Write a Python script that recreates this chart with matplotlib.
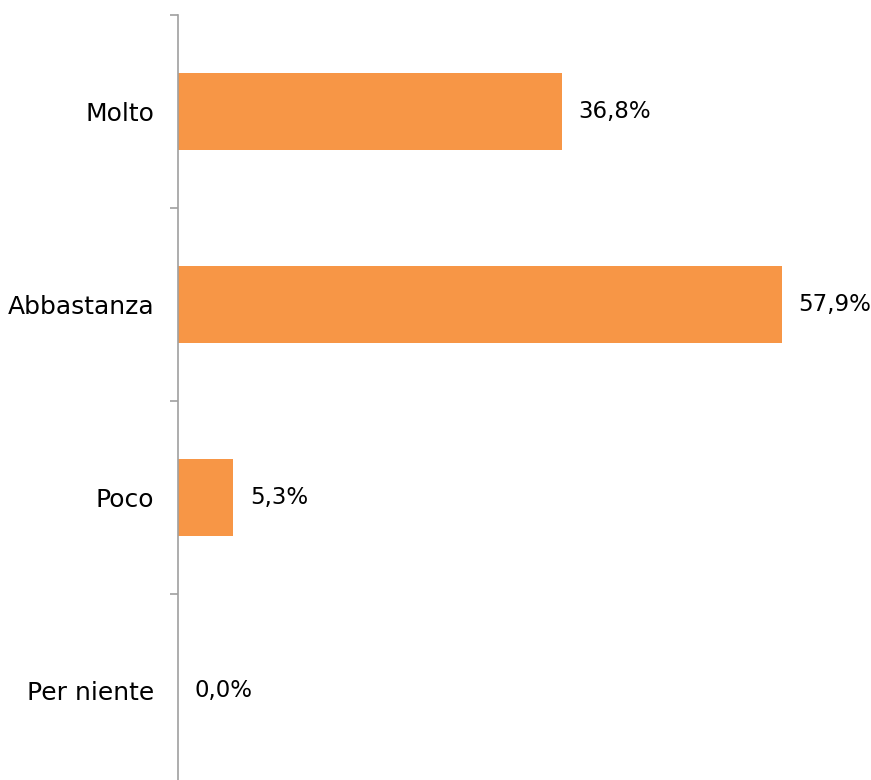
import matplotlib
matplotlib.use("Agg")
import matplotlib.pyplot as plt
import numpy as np

categories = ["Molto", "Abbastanza", "Poco", "Per niente"]
values = [36.8, 57.9, 5.3, 0.0]

plt.rcParams.update({"font.family": "DejaVu Sans", "font.size": 18})

fig = plt.figure(figsize=(8.71, 7.80), dpi=100)
# axis spine runs from near the top past the bottom edge of the figure
ax = fig.add_axes([178 / 871, -7 / 780, 680 / 871, 772 / 780])

y = np.arange(len(categories))
bars = ax.barh(y, values, height=0.4, color="#F79646")

ax.set_ylim(len(categories) - 0.5, -0.5)
ax.set_xlim(0, 680 / 10.43)

for spine in ["top", "right", "bottom"]:
    ax.spines[spine].set_visible(False)
ax.spines["left"].set_color("#A0A0A0")
ax.spines["left"].set_linewidth(1.2)
ax.xaxis.set_visible(False)

# boundary ticks between categories, labels at category centres
ax.set_yticks(np.arange(len(categories) + 1) - 0.5)
ax.set_yticklabels([])
ax.tick_params(axis="y", which="major", length=6, width=1.2, color="#A0A0A0")
ax.set_yticks(y, minor=True)
ax.set_yticklabels(categories, minor=True)
ax.tick_params(axis="y", which="minor", length=0, pad=17)

for v, yy in zip(values, y):
    ax.annotate(f"{v:.1f}%".replace(".", ","), (v, yy), xytext=(12, 0),
                textcoords="offset points", va="center", ha="left",
                fontsize=16.5)

fig.savefig("out.png", dpi=100)
